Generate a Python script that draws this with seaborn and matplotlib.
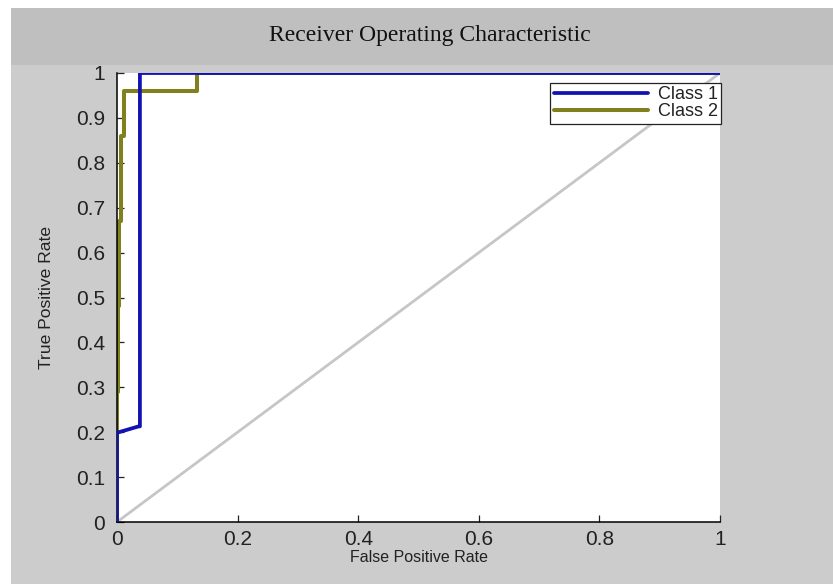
import matplotlib
matplotlib.use("Agg")
import matplotlib.pyplot as plt
from matplotlib.patches import Rectangle
import seaborn as sns
import pandas as pd

# ROC data
class1_fpr = [0.0, 0.0, 0.003, 0.036, 0.038, 0.038, 1.0]
class1_tpr = [0.0, 0.2, 0.2, 0.213, 0.213, 1.0, 1.0]
class2_fpr = [0.0, 0.0, 0.002, 0.002, 0.004, 0.004, 0.007, 0.007, 0.011, 0.011, 0.133, 0.133, 1.0]
class2_tpr = [0.0, 0.29, 0.29, 0.48, 0.48, 0.67, 0.67, 0.86, 0.86, 0.96, 0.96, 1.0, 1.0]
chance = [0.0, 1.0]
series_names = ["Class 1", "Class 2"]
xticks = [0, 0.2, 0.4, 0.6, 0.8, 1]
xtick_labels = ["0", "0.2", "0.4", "0.6", "0.8", "1"]
yticks = [0, 0.1, 0.2, 0.3, 0.4, 0.5, 0.6, 0.7, 0.8, 0.9, 1]
ytick_labels = ["0", "0.1", "0.2", "0.3", "0.4", "0.5", "0.6", "0.7", "0.8", "0.9", "1"]

sns.set_style("white")
plt.rcParams["font.family"] = ["Liberation Sans", "DejaVu Sans"]

W, H = 833, 584
fig = plt.figure(figsize=(W / 100, H / 100), dpi=100, facecolor="white")
# background panels
fig.patches.append(Rectangle((11 / W, 0), 1, 1 - 65 / H, transform=fig.transFigure,
                             facecolor="#cccccc", edgecolor="none", zorder=-10))
fig.patches.append(Rectangle((11 / W, 1 - 65 / H), 1, (65 - 8) / H, transform=fig.transFigure,
                             facecolor="#bfbfbf", edgecolor="none", zorder=-10))

ax = fig.add_axes([117 / W, 1 - 522 / H, (720 - 117) / W, (522 - 73) / H])
ax.set_facecolor("white")
ax.set_zorder(5)

df1 = pd.DataFrame({"fpr": class1_fpr, "tpr": class1_tpr})
df2 = pd.DataFrame({"fpr": class2_fpr, "tpr": class2_tpr})
dfc = pd.DataFrame({"fpr": chance, "tpr": chance})

sns.lineplot(data=dfc, x="fpr", y="tpr", sort=False, estimator=None, color="#c6c6c6",
             linewidth=2.0, ax=ax, zorder=1)
sns.lineplot(data=df1, x="fpr", y="tpr", sort=False, estimator=None, color="#1212b0",
             linewidth=2.7, ax=ax, label=series_names[0], zorder=3)
sns.lineplot(data=df2, x="fpr", y="tpr", sort=False, estimator=None, color="#80801e",
             linewidth=2.9, ax=ax, label=series_names[1], zorder=2)

ax.set_xlim(0, 1)
ax.set_ylim(0, 1)
ax.set_xticks(xticks)
ax.set_xticklabels(xtick_labels)
ax.set_yticks(yticks)
ax.set_yticklabels(ytick_labels)
ax.tick_params(direction="in", length=5, width=0.9, labelsize=15, colors="#222222",
               left=True, bottom=True)
ax.tick_params(axis="x", pad=6)
ax.tick_params(axis="y", pad=8.5)
for s in ["top", "right"]:
    ax.spines[s].set_visible(False)
for s in ["left", "bottom"]:
    ax.spines[s].set_color("black")
    ax.spines[s].set_linewidth(1.1)
ax.set_xlabel("False Positive Rate", fontsize=11.5, color="#222222", labelpad=0.5)
ax.set_ylabel("True Positive Rate", fontsize=12.6, color="#222222", labelpad=16)

leg = ax.legend(loc="upper right", bbox_to_anchor=(1.002, 0.978), frameon=True, fancybox=False,
                fontsize=13, handlelength=5.2, borderpad=0.2, labelspacing=0.0,
                handletextpad=0.55, borderaxespad=0)
leg.get_frame().set_edgecolor("#222222")
leg.get_frame().set_linewidth(0.9)
leg.get_frame().set_facecolor("white")
leg.get_frame().set_alpha(1)
for t in leg.get_texts():
    t.set_color("#222222")

fig.text(430 / W, 1 - 35 / H, "Receiver Operating Characteristic", ha="center", va="center",
         fontsize=17, family=["Liberation Serif", "DejaVu Serif"], color="#111111")

fig.savefig("out.png", dpi=100, facecolor=fig.get_facecolor())
